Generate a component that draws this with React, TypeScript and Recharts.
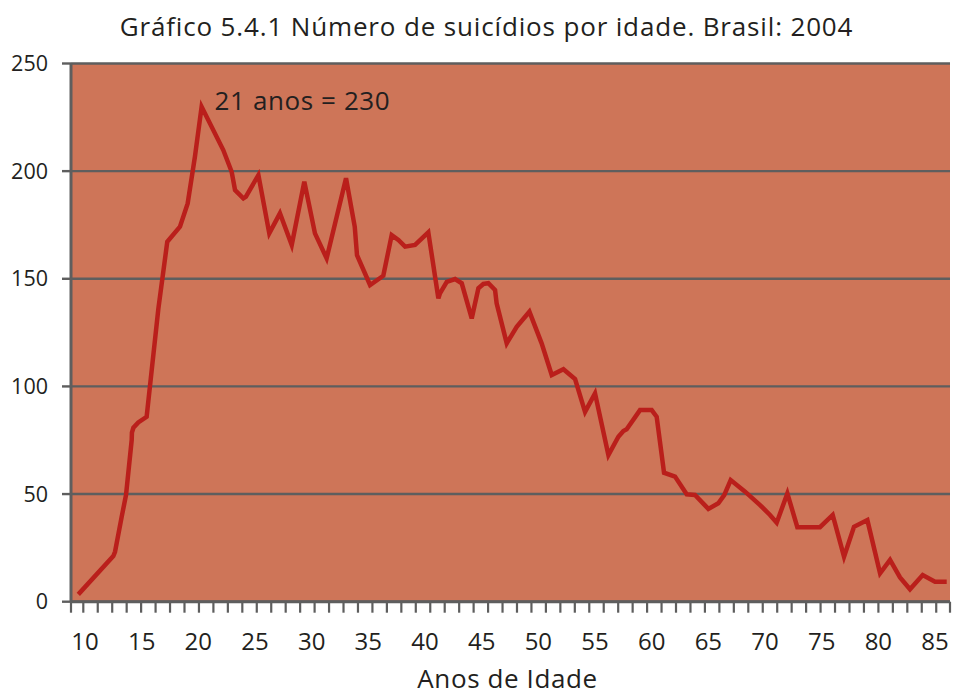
import React from 'react';
import { LineChart, Line, XAxis, YAxis, CartesianGrid, ReferenceDot } from 'recharts';

// Age position (as read against the axis labels) and number of suicides
const ages = [
  9.41, 12.5, 12.65, 13.24, 13.62, 14.12, 14.14, 14.27, 14.7, 15.44,
  16.47, 17.26, 18.38, 19.06, 19.7, 20.29, 22.2, 22.94, 23.24, 23.97,
  24.2, 25.3, 26.26, 27.2, 28.24, 29.35, 30.29, 31.32, 33.03, 33.8,
  34.0, 35.15, 36.32, 37.06, 37.65, 38.24, 39.12, 40.29, 41.18, 41.32,
  41.92, 42.65, 43.24, 44.12, 44.71, 45.15, 45.59, 46.18, 46.32, 47.21,
  48.09, 49.21, 50.29, 51.18, 52.21, 53.24, 54.12, 55.0, 56.18, 57.06,
  57.5, 57.79, 58.97, 60.0, 60.44, 61.09, 62.06, 63.09, 63.82, 65.0,
  65.88, 66.4, 66.97, 68.24, 69.56, 70.44, 71.03, 71.97, 72.85, 74.85,
  75.97, 76.97, 77.85, 79.03, 80.15, 81.03, 81.91, 82.79, 83.91, 85.0,
  86.03,
];
const suicides = [
  3.4, 21.2, 23.2, 39.5, 49.6, 75.1, 78.5, 80.8, 83.3, 85.9,
  136, 167.2, 174.2, 185, 206.7, 229.9, 209.8, 199.7, 191.2, 187.4,
  188.2, 198.2, 171.1, 180.4, 165.7, 195.1, 171.1, 159.5, 196.7, 174.2,
  161, 147.1, 151.4, 170.3, 168, 164.9, 165.7, 171.6, 140.9, 143.2,
  148.6, 149.9, 147.9, 131.6, 145.6, 147.6, 148, 144.8, 138.6, 120,
  127.7, 134.7, 120, 105.3, 108, 103.4, 88.2, 96.8, 68.1, 76.6,
  79.3, 80.1, 89, 89, 85.9, 59.9, 58.1, 49.9, 49.6, 43.1,
  45.7, 49.5, 56.5, 51.1, 44.9, 40.3, 36.7, 50.3, 34.6, 34.6,
  40.3, 20.9, 34.8, 37.9, 13.2, 19.4, 11.3, 5.8, 12.4, 9.3,
  9.3,
];

const xLabelTicks = [10, 15, 20, 25, 30, 35, 40, 45, 50, 55, 60, 65, 70, 75, 80, 85];
const yTicks = [0, 50, 100, 150, 200, 250];
const peakAge = 20.29;
const peakValue = 229.9;
const peakLabel = '21 anos = 230';
const title = 'Gráfico 5.4.1 Número de suicídios por idade. Brasil: 2004';
const xTitle = 'Anos de Idade';

const xDomain: [number, number] = [8.765, 86.32];
// decorative tick marks along the x axis (independent of labels)
const tickMarkStart = 9.85;
const tickMarkStep = 1.2755;
const tickMarks: number[] = [xDomain[0]];
for (let k = 0; k < 60; k++) tickMarks.push(+(tickMarkStart + k * tickMarkStep).toFixed(4));
tickMarks.push(xDomain[1]);

const data = ages.map((a, i) => ({ age: a, value: suicides[i] }));

const FONT = '"Open Sans", sans-serif';
const TEXT = '#231F20';
const GRID = '#5E5E5E';
const BG = '#CE7558';
const LINE = '#BA1F1B';

const XTick = (props: any) => {
  const { x, y, payload } = props;
  const v = payload.value;
  if (xLabelTicks.includes(v)) {
    return (
      <text x={x} y={y + 48} textAnchor="middle" fontFamily={FONT} fontSize={24} fill={TEXT}>
        {v}
      </text>
    );
  }
  return <line x1={x} x2={x} y1={y} y2={y + 11} stroke={GRID} strokeWidth={2.2} />;
};

export default function App() {
  return (
    <div style={{ position: 'absolute', left: 0, top: 0, width: 953, height: 696, background: '#fff', overflow: 'hidden' }}>
      <div
        style={{
          position: 'absolute', left: 0, top: 13, width: 973, textAlign: 'center',
          fontFamily: FONT, fontSize: 26, lineHeight: '26px', letterSpacing: 0.85,
          color: TEXT, whiteSpace: 'nowrap',
        }}
      >
        {title}
      </div>
      <LineChart
        width={953}
        height={696}
        data={data}
        margin={{ top: 63.5, right: 3, left: 0, bottom: 0 }}
      >
        <CartesianGrid vertical={false} stroke={GRID} strokeWidth={2.4} fill={BG} fillOpacity={1} />
        <XAxis
          dataKey="age"
          type="number"
          domain={xDomain}
          ticks={[...tickMarks, ...xLabelTicks].sort((a, b) => a - b)}
          interval={0}
          height={94.3}
          tickSize={0}
          tickMargin={0}
          tickLine={false}
          axisLine={{ stroke: GRID, strokeWidth: 3 }}
          tick={<XTick />}
          allowDataOverflow
        />
        <YAxis
          type="number"
          domain={[0, 250]}
          ticks={yTicks}
          width={71}
          tickSize={9}
          tickMargin={14}
          tickLine={{ stroke: GRID, strokeWidth: 2.4 }}
          axisLine={{ stroke: GRID, strokeWidth: 3 }}
          tick={{ fontFamily: FONT, fontSize: 21.5, fill: TEXT }}
          allowDataOverflow
        />
        <Line
          dataKey="value"
          type="linear"
          stroke={LINE}
          strokeWidth={4.5}
          dot={false}
          activeDot={false}
          isAnimationActive={false}
          strokeLinejoin="miter"
        />
        <ReferenceDot
          x={peakAge}
          y={peakValue}
          r={0}
          fill="none"
          stroke="none"
          label={{
            content: (p: any) => {
              const vb = p.viewBox || {};
              return (
                <text x={vb.x + 13} y={vb.y + 3} fontFamily={FONT} fontSize={26} letterSpacing={0.6} fill={TEXT}>
                  {peakLabel}
                </text>
              );
            },
          }}
        />
      </LineChart>
      <div
        style={{
          position: 'absolute', left: 0, top: 666, width: 1015, height: 26, textAlign: 'center',
          fontFamily: FONT, fontSize: 26, lineHeight: '24px', letterSpacing: 0.6,
          color: TEXT, whiteSpace: 'nowrap',
        }}
      >
        {xTitle}
      </div>
    </div>
  );
}
